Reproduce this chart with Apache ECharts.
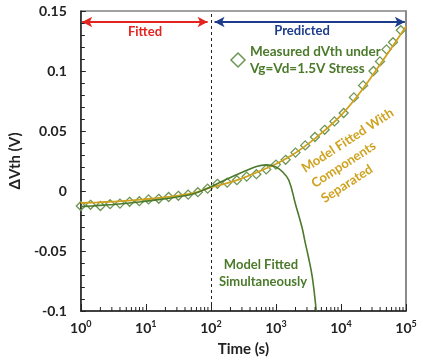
<!DOCTYPE html>
<html>
<head>
<meta charset="utf-8">
<script src="https://cdn.jsdelivr.net/npm/echarts@6/dist/echarts.min.js"></script>
<style>
  html, body { margin: 0; padding: 0; background: #fff; }
  #chart { width: 423px; height: 362px; }
</style>
</head>
<body>
<div id="chart"></div>
<script>
// Stress time (s) of each measured point
const measuredTime = [1, 1.41, 2, 2.82, 4, 5.62, 7.94, 11, 15.8, 22.4, 31.6, 44.7, 63.1, 89.1,
  126, 178, 251, 355, 501, 708, 1000, 1410, 2000, 2820, 3980, 5620, 7940, 11000,
  15800, 21900, 31600, 39800, 50100, 63100, 83200];
// Measured threshold-voltage shift (V)
const measuredDVth = [-0.0125, -0.0115, -0.0125, -0.011, -0.0105, -0.009, -0.0085, -0.007,
  -0.0065, -0.005, -0.004, -0.003, -0.001, 0.002, 0.006, 0.007, 0.009, 0.012, 0.014,
  0.018, 0.022, 0.026, 0.032, 0.038, 0.045, 0.051, 0.058, 0.065, 0.078, 0.088, 0.100,
  0.108, 0.118, 0.124, 0.134];

// Model fitted with components separated
const separatedTime = [1, 1.78, 3.16, 5.62, 10, 17.8, 31.6, 56.2, 100, 178, 316, 562, 1000,
  1780, 3160, 5620, 10000, 17800, 31600, 56200, 100000];
const separatedDVth = [-0.0100, -0.0095, -0.0088, -0.0080, -0.0068, -0.0055, -0.0038, -0.0015,
  0.0030, 0.0065, 0.0110, 0.0165, 0.0225, 0.0300, 0.0395, 0.0505, 0.0630, 0.0790,
  0.0975, 0.1170, 0.1370];

// Model fitted simultaneously
const simultaneousTime = [1, 1.78, 3.16, 5.62, 10, 17.8, 31.6, 56.2, 100, 178, 316, 501, 708,
  1000, 1260, 1580, 2000, 2510, 2820, 3160, 3630, 4170];
const simultaneousDVth = [-0.0130, -0.0122, -0.0112, -0.0100, -0.0085, -0.0068, -0.0048,
  -0.0020, 0.0035, 0.0100, 0.0160, 0.0205, 0.0218, 0.0200, 0.0160, 0.0090, -0.0110,
  -0.0300, -0.0430, -0.0550, -0.0720, -0.1000];

// Axis settings
const xDecades = [1, 10, 100, 1000, 10000];
const xMinorMultipliers = [2, 3, 4, 5, 6, 7, 8, 9];
const yTicks = [-0.1, -0.05, 0, 0.05, 0.1, 0.15];

const font = 'Lato, "Open Sans", sans-serif';
const green = '#4b7a2b';
const markerGreen = '#6e9553';
const gold = '#cfa21d';
const red = '#e3231f';
const blue = '#1d3c8c';

const minorTickTimes = [];
xDecades.forEach(d => xMinorMultipliers.forEach(m => minorTickTimes.push([d * m])));

const pair = (xs, ys) => xs.map((x, i) => [x, ys[i]]);

const chart = echarts.init(document.getElementById('chart'), null, { renderer: 'canvas' });

chart.setOption({
  animation: false,
  backgroundColor: '#fff',
  grid: {
    left: 77, right: 17, top: 11, bottom: 51,
    show: true, borderColor: '#444', borderWidth: 1
  },
  xAxis: [{
    type: 'log',
    logBase: 10,
    min: 1,
    max: 100000,
    name: 'Time (s)',
    nameLocation: 'middle',
    nameGap: 31,
    nameTextStyle: { fontFamily: font, fontWeight: 'bold', fontSize: 15, color: '#222' },
    axisLine: { show: true, onZero: false, lineStyle: { color: '#222', width: 1.5 } },
    axisTick: { show: true, inside: true, length: 7, lineStyle: { color: '#222' } },
    splitLine: { show: false },
    axisLabel: {
      margin: 9,
      formatter: v => '{b|10}{s|' + Math.round(Math.log10(v)) + '}',
      rich: {
        b: { fontFamily: font, fontWeight: 'bold', fontSize: 14, color: '#222' },
        s: { fontFamily: font, fontWeight: 'bold', fontSize: 9, color: '#222', verticalAlign: 'top', padding: [0, 0, 8, 0] }
      }
    }
  }],
  yAxis: [{
    type: 'value',
    min: yTicks[0],
    max: yTicks[yTicks.length - 1],
    interval: 0.05,
    name: 'ΔVth (V)',
    nameLocation: 'middle',
    nameGap: 48,
    nameTextStyle: { fontFamily: font, fontWeight: 'bold', fontSize: 15, color: '#222' },
    axisLine: { show: true, onZero: false, lineStyle: { color: '#222', width: 1.5 } },
    axisTick: { show: true, inside: true, length: 5, lineStyle: { color: '#222' } },
    minorTick: { show: true, splitNumber: 5, length: 4, lineStyle: { color: '#222' } },
    splitLine: { show: false },
    axisLabel: {
      margin: 14,
      fontFamily: font, fontWeight: 'bold', fontSize: 14, color: '#222'
    }
  }, {
    type: 'value',
    position: 'right',
    min: yTicks[0],
    max: yTicks[yTicks.length - 1],
    axisLine: { show: true, onZero: false, lineStyle: { color: '#8a8a8a', width: 2 } },
    axisTick: { show: false },
    axisLabel: { show: false },
    splitLine: { show: false }
  }],
  series: [
    {
      // log-scale minor ticks on the time axis (2..9 within each decade)
      type: 'custom',
      silent: true,
      data: minorTickTimes,
      renderItem: (params, api) => {
        const p = api.coord([api.value(0), yTicks[0]]);
        return {
          type: 'line',
          shape: { x1: p[0], y1: p[1], x2: p[0], y2: p[1] - 4 },
          style: { stroke: '#222', lineWidth: 1 }
        };
      },
      z: 5
    },
    {
      name: 'Measured dVth under Vg=Vd=1.5V Stress',
      type: 'scatter',
      data: pair(measuredTime, measuredDVth),
      symbol: 'diamond',
      symbolSize: 9,
      itemStyle: { color: 'rgba(255,255,255,0)', borderColor: markerGreen, borderWidth: 1.3, opacity: 1 },
      z: 2,
      markLine: {
        silent: true,
        symbol: ['none', 'none'],
        label: { show: false },
        lineStyle: { color: '#222', type: [3, 3], width: 1 },
        data: [{ xAxis: 100 }]
      }
    },
    {
      name: 'Model Fitted With Components Separated',
      type: 'line',
      data: pair(separatedTime, separatedDVth),
      smooth: 0.4,
      showSymbol: false,
      lineStyle: { color: gold, width: 1.8 },
      z: 3
    },
    {
      name: 'Model Fitted Simultaneously',
      type: 'line',
      data: pair(simultaneousTime, simultaneousDVth),
      smooth: 0.4,
      showSymbol: false,
      lineStyle: { color: green, width: 1.6 },
      z: 4
    },
    {
      // range arrows for the fitted and predicted windows
      type: 'line',
      data: [],
      markLine: {
        silent: true,
        symbol: ['arrow', 'arrow'],
        symbolSize: [8, 10],
        label: { show: false },
        data: [
          [{ coord: [1.05, 0.1408], lineStyle: { color: red, width: 2, type: 'solid' } },
           { coord: [89, 0.1408] }],
          [{ coord: [114, 0.1408], lineStyle: { color: blue, width: 2, type: 'solid' } },
           { coord: [96000, 0.1408] }]
        ]
      }
    }
  ],
  graphic: [
    { type: 'text', x: 145, y: 32, style: { text: 'Fitted', fill: red, font: 'bold 13px ' + font, textAlign: 'center', textVerticalAlign: 'middle' } },
    { type: 'text', x: 302, y: 31, style: { text: 'Predicted', fill: blue, font: 'bold 13px ' + font, textAlign: 'center', textVerticalAlign: 'middle' } },
    { type: 'polygon', shape: { points: [[238, 53], [245, 60], [238, 67], [231, 60]] }, style: { fill: 'none', stroke: markerGreen, lineWidth: 1.5 } },
    { type: 'text', x: 250, y: 52, style: { text: 'Measured dVth under', fill: green, font: 'bold 13.5px ' + font, textVerticalAlign: 'middle' } },
    { type: 'text', x: 250, y: 69, style: { text: 'Vg=Vd=1.5V Stress', fill: green, font: 'bold 13.5px ' + font, textVerticalAlign: 'middle' } },
    {
      type: 'text', x: 298, y: 162, rotation: 33 * Math.PI / 180,
      style: { text: 'Model Fitted With\nComponents\nSeparated', fill: gold, font: 'bold 13px ' + font, textAlign: 'left', textVerticalAlign: 'top', lineHeight: 18 }
    },
    { type: 'text', x: 261, y: 265, style: { text: 'Model Fitted', fill: green, font: 'bold 13px ' + font, textAlign: 'center', textVerticalAlign: 'middle' } },
    { type: 'text', x: 263, y: 282, style: { text: 'Simultaneously', fill: green, font: 'bold 13px ' + font, textAlign: 'center', textVerticalAlign: 'middle' } }
  ]
});
</script>
</body>
</html>
